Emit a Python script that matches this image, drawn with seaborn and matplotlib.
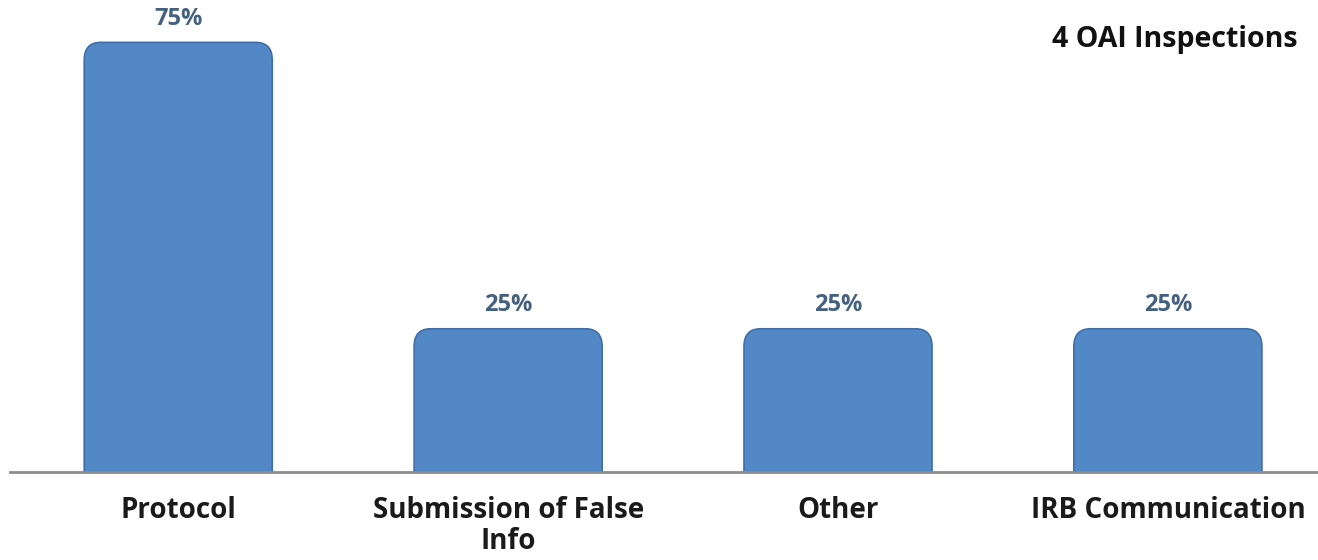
import matplotlib
matplotlib.use("Agg")
import matplotlib.pyplot as plt
import seaborn as sns
import pandas as pd
from matplotlib.patches import FancyBboxPatch

categories = ["Protocol", "Submission of False\nInfo", "Other", "IRB Communication"]
values = [75, 25, 25, 25]
value_labels = ["75%", "25%", "25%", "25%"]
title_text = "4 OAI Inspections"

sns.set_theme(style="white")
plt.rcParams['font.family'] = ['Open Sans', 'DejaVu Sans']

df = pd.DataFrame({"category": categories, "value": values})

fig = plt.figure(figsize=(13.18, 5.6), dpi=100)
ax = fig.add_axes([10/1318, 88/560, 1308/1318, 472/560])
sns.barplot(data=df, x="category", y="value", color="#5388C6", width=0.57,
            saturation=1, ax=ax)

ax.set_xlim(-0.51, 3.455)
ax.set_ylim(0, 82.4)

# Replace rectangles with rounded-top versions
bars = list(ax.patches)
for p, lab in zip(bars, value_labels):
    x, y, w, h = p.get_x(), p.get_y(), p.get_width(), p.get_height()
    p.set_visible(False)
    rp = FancyBboxPatch((x, y - 6), w, h + 6,
                        boxstyle="round,pad=0,rounding_size=0.05",
                        mutation_aspect=62,
                        facecolor="#5388C6", edgecolor="#3F6EA8", linewidth=1.2,
                        zorder=3)
    ax.add_patch(rp)
    ax.annotate(lab, (x + w / 2, h), xytext=(0, 12.5), textcoords="offset points",
                ha="center", va="baseline", fontsize=17, fontweight="bold",
                color="#44607F")

for s in ["top", "left", "right"]:
    ax.spines[s].set_visible(False)
ax.spines["bottom"].set_color("#8C8C8C")
ax.spines["bottom"].set_linewidth(2)
ax.spines["bottom"].set_zorder(5)

ax.set_yticks([])
ax.set_xlabel("")
ax.set_ylabel("")
ax.tick_params(axis="x", length=0, pad=17)
for t in ax.get_xticklabels():
    t.set_fontsize(20)
    t.set_fontweight("bold")
    t.set_color("#1A1A1A")
    t.set_linespacing(1.12)
    t.set_verticalalignment("top")
    t.set_multialignment("center")

fig.text(1175/1318, 1 - 47/560, title_text, ha="center", va="baseline",
         fontsize=20.5, fontweight="bold", color="#111111")

fig.savefig("out.png", dpi=100, facecolor="white")
